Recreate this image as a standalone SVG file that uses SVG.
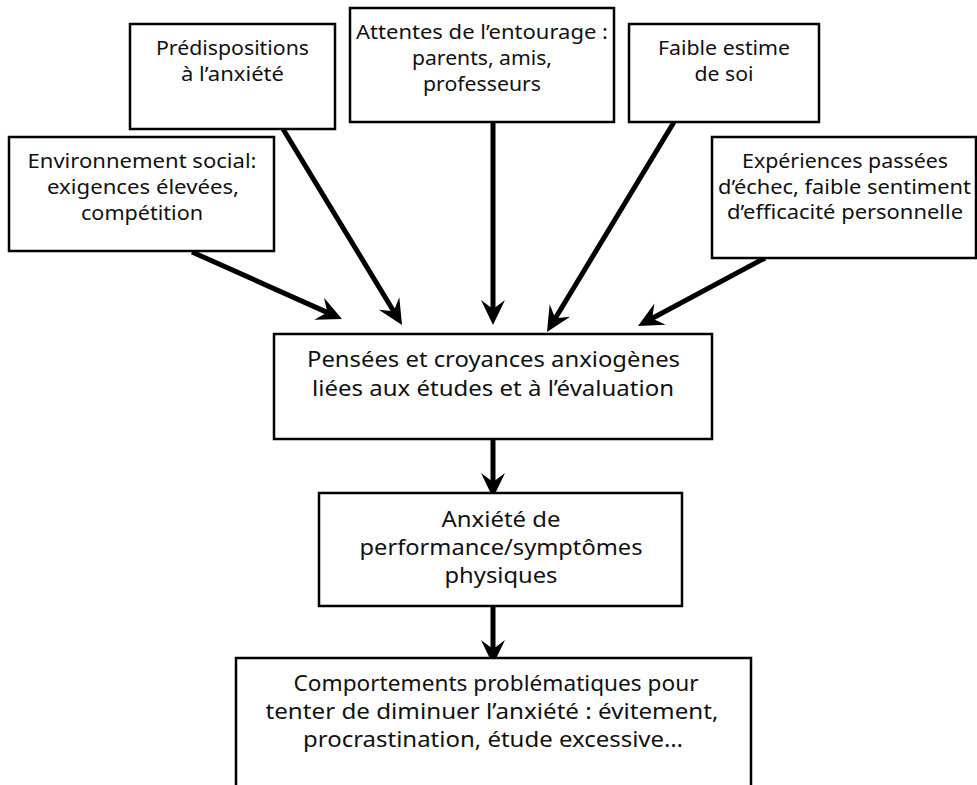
<svg xmlns="http://www.w3.org/2000/svg" width="977" height="785" viewBox="0 0 977 785">
<style>
.box{fill:#fff;stroke:#000;stroke-width:2.5}
.t{font-family:"Noto Sans","Open Sans","DejaVu Sans",sans-serif;font-size:20px;fill:#111;text-anchor:middle}
.tb{font-size:22px}
.c{stroke:#000;stroke-width:5;fill:none;marker-end:url(#ah)}
</style>
<defs>
<marker id="ah" markerUnits="userSpaceOnUse" viewBox="-26 -13 28 26" markerWidth="28" markerHeight="26" refX="-12" refY="0" orient="auto" overflow="visible">
<path d="M0,0 L-25,-12 L-16,0 L-25,12 Z" fill="#000"/>
</marker>
</defs>
<rect width="977" height="785" fill="#fff"/>
<g id="connectors">
<line class="c" x1="192" y1="252" x2="331" y2="314.1"/>
<line class="c" x1="283" y1="129" x2="395.8" y2="314.7"/>
<line class="c" x1="493" y1="122" x2="493" y2="313"/>
<line class="c" x1="674" y1="122" x2="553.2" y2="321.7"/>
<line class="c" x1="765" y1="258" x2="648.6" y2="320.3"/>
<line class="c" x1="493" y1="439" x2="493" y2="486"/>
<line class="c" x1="493" y1="606" x2="493" y2="653"/>
</g>
<g id="predispositions">
<rect class="box" x="130" y="24" width="205" height="105"/>
<text class="t" x="232.5" y="55" textLength="153" lengthAdjust="spacingAndGlyphs">Prédispositions</text>
<text class="t" x="232.5" y="81" textLength="103" lengthAdjust="spacingAndGlyphs">à l’anxiété</text>
</g>
<g id="environnement">
<rect class="box" x="9" y="137" width="265" height="114"/>
<text class="t" x="142" y="168" textLength="229" lengthAdjust="spacingAndGlyphs">Environnement  social:</text>
<text class="t" x="143" y="194" textLength="192" lengthAdjust="spacingAndGlyphs">exigences élevées,</text>
<text class="t" x="142" y="220" textLength="122" lengthAdjust="spacingAndGlyphs">compétition</text>
</g>
<g id="attentes">
<rect class="box" x="350" y="8" width="264" height="114"/>
<text class="t" x="482" y="39" textLength="252" lengthAdjust="spacingAndGlyphs">Attentes de l’entourage :</text>
<text class="t" x="482" y="65" textLength="140" lengthAdjust="spacingAndGlyphs">parents, amis,</text>
<text class="t" x="482" y="91" textLength="118" lengthAdjust="spacingAndGlyphs">professeurs</text>
</g>
<g id="estime">
<rect class="box" x="629" y="24" width="190" height="98"/>
<text class="t" x="724" y="55" textLength="132" lengthAdjust="spacingAndGlyphs">Faible estime</text>
<text class="t" x="724" y="81" textLength="59" lengthAdjust="spacingAndGlyphs">de soi</text>
</g>
<g id="experiences">
<rect class="box" x="712" y="137" width="264" height="121"/>
<text class="t" x="845" y="168" textLength="206" lengthAdjust="spacingAndGlyphs">Expériences passées</text>
<text class="t" x="844.5" y="194" textLength="253" lengthAdjust="spacingAndGlyphs">d’échec, faible sentiment</text>
<text class="t" x="845" y="219" textLength="236" lengthAdjust="spacingAndGlyphs">d’efficacité personnelle</text>
</g>
<g id="pensees">
<rect class="box" x="274" y="334" width="438" height="105"/>
<text class="t tb" x="493.5" y="367" textLength="373" lengthAdjust="spacingAndGlyphs">Pensées et croyances anxiogènes</text>
<text class="t tb" x="493" y="396" textLength="362" lengthAdjust="spacingAndGlyphs">liées aux études et à l’évaluation</text>
</g>
<g id="anxiete">
<rect class="box" x="319" y="493" width="363" height="113"/>
<text class="t tb" x="501" y="527" textLength="119" lengthAdjust="spacingAndGlyphs">Anxiété de</text>
<text class="t tb" x="501" y="555" textLength="283" lengthAdjust="spacingAndGlyphs">performance/symptômes</text>
<text class="t tb" x="501" y="583" textLength="113" lengthAdjust="spacingAndGlyphs">physiques</text>
</g>
<g id="comportements">
<path class="box" d="M236,787 V658 H751 V787"/>
<text class="t tb" x="496" y="691" textLength="405" lengthAdjust="spacingAndGlyphs">Comportements problématiques pour</text>
<text class="t tb" x="492" y="719" textLength="453" lengthAdjust="spacingAndGlyphs">tenter de diminuer l’anxiété : évitement,</text>
<text class="t tb" x="493" y="747" textLength="380" lengthAdjust="spacingAndGlyphs">procrastination, étude excessive…</text>
</g>
</svg>
